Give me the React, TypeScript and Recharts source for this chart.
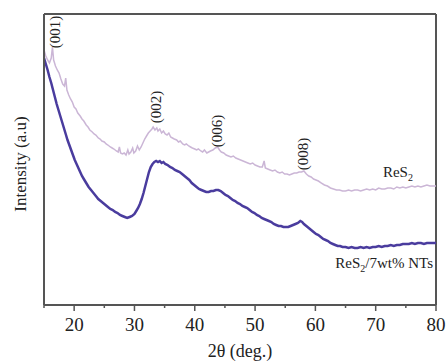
import React from 'react';
import { LineChart, Line, XAxis, YAxis, ReferenceLine, ReferenceDot, Label } from 'recharts';

const lightTheta = [15.0,15.3,15.6,15.9,16.2,16.4,16.6,16.9,17.2,17.5,17.8,18.1,18.4,18.6,18.8,19.1,19.4,19.7,20.0,20.3,20.6,21.0,21.3,21.6,22.0,22.3,22.6,23.0,23.3,23.6,24.0,24.3,24.6,25.0,25.3,25.6,26.0,26.3,26.6,27.0,27.3,27.5,27.7,28.0,28.3,28.6,28.9,29.1,29.4,29.7,29.9,30.2,30.5,30.8,31.1,31.4,31.7,32.0,32.3,32.6,32.9,33.1,33.4,33.7,33.9,34.2,34.5,34.8,35.1,35.4,35.7,36.0,36.3,36.6,37.0,37.3,37.6,38.0,38.3,38.6,39.0,39.3,39.6,40.0,40.3,40.6,41.0,41.3,41.6,42.0,42.3,42.6,43.0,43.4,43.8,44.1,44.4,44.8,45.2,45.6,46.0,46.4,46.8,47.2,47.6,48.0,48.4,48.8,49.2,49.6,50.0,50.4,50.8,51.2,51.5,51.7,52.1,52.5,52.9,53.3,53.7,54.1,54.5,54.9,55.3,55.7,56.1,56.5,56.9,57.3,57.7,58.1,58.5,58.9,59.3,59.7,60.1,60.5,61.0,61.5,62.0,62.5,63.0,63.5,64.0,64.5,65.0,65.5,66.0,66.5,67.0,67.5,68.0,68.5,69.0,69.5,70.0,70.5,71.0,71.5,72.0,72.5,73.0,73.5,74.0,74.5,75.0,75.5,76.0,76.5,77.0,77.5,78.0,78.5,79.0,79.5,80.0];
const lightIntensity = [255,249,245,242,247,258,245,239,235,232,226,221,219,227,215,210,206,203,198,196,192,189,186,184,180,178,175,173,171,170,167,166,164,163,161,160,158,157,156,154,153,158,152,151,152,150,155,151,153,157,152,154,159,155,158,162,166,169,172,174,176,178,175,177,174,176,172,174,171,170,172,168,167,166,165,163,164,161,160,161,159,158,157,156,155,156,154,153,155,152,153,154,155,157,158,155,153,152,150,149,148,149,147,146,145,144,143,142,141,142,140,139,138,138,144,137,136,135,134,135,133,132,133,131,131,130,131,132,132,133,133,134,131,129,128,126,125,124,122,120,119,117,116,115,115,114,114,115,114,115,115,114,115,116,115,116,115,117,116,116,117,117,116,118,117,118,117,118,119,118,119,118,119,120,119,119,119];

const darkTheta = [15.0,15.3,15.6,15.9,16.2,16.5,16.8,17.1,17.4,17.7,18.0,18.3,18.6,18.9,19.2,19.5,19.8,20.1,20.4,20.7,21.0,21.3,21.6,22.0,22.4,22.8,23.2,23.6,24.0,24.4,24.8,25.2,25.6,26.0,26.4,26.8,27.2,27.6,28.0,28.4,28.8,29.2,29.6,30.0,30.3,30.6,30.9,31.2,31.5,31.8,32.1,32.4,32.7,33.0,33.3,33.6,33.9,34.2,34.5,34.8,35.1,35.5,35.9,36.3,36.7,37.1,37.5,37.9,38.3,38.7,39.1,39.5,39.9,40.3,40.7,41.1,41.5,41.9,42.3,42.7,43.1,43.5,43.9,44.3,44.7,45.1,45.5,45.9,46.3,46.7,47.1,47.5,47.9,48.3,48.7,49.1,49.5,49.9,50.3,50.7,51.1,51.5,51.9,52.3,52.7,53.1,53.5,53.9,54.3,54.7,55.1,55.5,55.9,56.3,56.7,57.1,57.5,57.8,58.1,58.5,58.9,59.3,59.7,60.1,60.5,60.9,61.3,61.7,62.1,62.5,62.9,63.3,63.7,64.1,64.5,65.0,65.5,66.0,66.5,67.0,67.5,68.0,68.5,69.0,69.5,70.0,70.5,71.0,71.5,72.0,72.5,73.0,73.5,74.0,74.5,75.0,75.5,76.0,76.5,77.0,77.5,78.0,78.5,79.0,79.5,80.0];
const darkIntensity = [247,241,235,228,222,215,208,201,195,189,183,177,171,165,160,155,150,145,141,137,133,129,126,122,118,115,112,109,106,104,102,100,98,96,95,93,92,90,89,88,87,88,89,91,94,97,101,106,112,119,126,133,138,141,143,144,143,144,142,143,141,140,138,137,135,134,133,131,129,127,125,122,120,118,116,115,114,113,113,114,114,115,115,114,112,110,109,107,105,104,102,101,99,98,97,95,93,92,90,89,87,86,85,84,83,81,80,79,79,78,78,78,79,80,81,82,84,83,81,79,77,75,73,71,70,68,66,65,64,62,61,60,59,59,58,58,57,58,57,57,58,57,58,57,58,58,59,58,59,59,60,59,60,60,61,61,61,62,61,62,62,61,62,62,62,62];

const xTicks = [15,20,25,30,35,40,45,50,55,60,65,70,75,80];
const peakLabels = [
  { text: '(001)', x: 16.8, y: 273 },
  { text: '(002)', x: 33.6, y: 198 },
  { text: '(006)', x: 43.7, y: 174 },
  { text: '(008)', x: 57.95, y: 151 },
];

const lightData = lightTheta.map((t, i) => ({ t, v: lightIntensity[i] }));
const darkData = darkTheta.map((t, i) => ({ t, v: darkIntensity[i] }));

const SERIF = "'Liberation Serif', 'Times New Roman', serif";
const FRAME = '#555';

const XTick = (props: any) => {
  const { x, y, payload } = props;
  const major = payload.value % 10 === 0;
  return (
    <g>
      <line x1={x} x2={x} y1={y} y2={y + (major ? 6 : 3)} stroke={FRAME} strokeWidth={1.5} />
      {major ? (
        <text x={x} y={y + 26} textAnchor="middle" fontFamily={SERIF} fontSize={19} fill="#222">
          {payload.value}
        </text>
      ) : null}
    </g>
  );
};

const rotatedLabel = (text: string) => (props: any) => {
  const vb = props.viewBox || {};
  const cx = (vb.x || 0) + (vb.width || 0) / 2;
  const cy = (vb.y || 0) + (vb.height || 0) / 2;
  return (
    <text x={cx} y={cy} transform={`rotate(-90 ${cx} ${cy})`} textAnchor="middle" dominantBaseline="central"
      fontFamily={SERIF} fontSize={15} fill="#222">
      {text}
    </text>
  );
};

const seriesLabel = (main: string, sub: string, rest: string, anchor: 'start' | 'end') => (props: any) => {
  const vb = props.viewBox || {};
  const cx = (vb.x || 0) + (vb.width || 0) / 2;
  const cy = (vb.y || 0) + (vb.height || 0) / 2;
  return (
    <text x={cx} y={cy} textAnchor={anchor} fontFamily={SERIF} fontSize={15} fill="#222">
      {main}
      <tspan fontSize={10} dy={4}>{sub}</tspan>
      <tspan dy={-4}>{rest}</tspan>
    </text>
  );
};

export default function App() {
  return (
    <div style={{ position: 'absolute', left: 0, top: 0, width: 447, height: 361, background: '#fff' }}>
      <LineChart width={447} height={361} margin={{ top: 14, right: 11, left: 0, bottom: 0 }}>
        <XAxis
          dataKey="t"
          type="number"
          domain={[15, 80]}
          ticks={xTicks}
          interval={0}
          allowDataOverflow
          height={56}
          tickSize={0}
          tickMargin={0}
          axisLine={{ stroke: FRAME, strokeWidth: 2 }}
          tickLine={false}
          tick={<XTick />}
        >
          <Label
            content={(props: any) => {
              const vb = props.viewBox || {};
              const cx = vb.x + vb.width / 2;
              return (
                <text x={cx} y={357} textAnchor="middle" fontFamily={SERIF} fontSize={18} fill="#222">
                  2θ (deg.)
                </text>
              );
            }}
          />
        </XAxis>
        <YAxis
          type="number"
          domain={[0, 291]}
          allowDataOverflow
          width={44}
          tick={false}
          tickLine={false}
          axisLine={{ stroke: FRAME, strokeWidth: 2 }}
        >
          <Label
            content={() => {
              const cx = 20;
              const cy = 164;
              return (
                <text x={cx} y={cy} transform={`rotate(-90 ${cx} ${cy})`} textAnchor="middle" dominantBaseline="central"
                  fontFamily={SERIF} fontSize={17} fill="#222">
                  Intensity (a.u)
                </text>
              );
            }}
          />
        </YAxis>
        <ReferenceLine y={291} stroke={FRAME} strokeWidth={2} />
        <ReferenceLine x={80} stroke={FRAME} strokeWidth={2} />
        <Line data={lightData} dataKey="v" type="linear" stroke="#cbb6d6" strokeWidth={1.5} dot={false} isAnimationActive={false} />
        <Line data={darkData} dataKey="v" type="linear" stroke="#4a3c9e" strokeWidth={2.5} dot={false} isAnimationActive={false} />
        {peakLabels.map((p) => (
          <ReferenceDot key={p.text} x={p.x} y={p.y} r={0} fill="none" stroke="none" label={rotatedLabel(p.text)} />
        ))}
        <ReferenceDot x={71.2} y={128} r={0} fill="none" stroke="none" label={seriesLabel('ReS', '2', '', 'start')} />
        <ReferenceDot x={79.5} y={37} r={0} fill="none" stroke="none" label={seriesLabel('ReS', '2', '/7wt% NTs', 'end')} />
      </LineChart>
    </div>
  );
}
